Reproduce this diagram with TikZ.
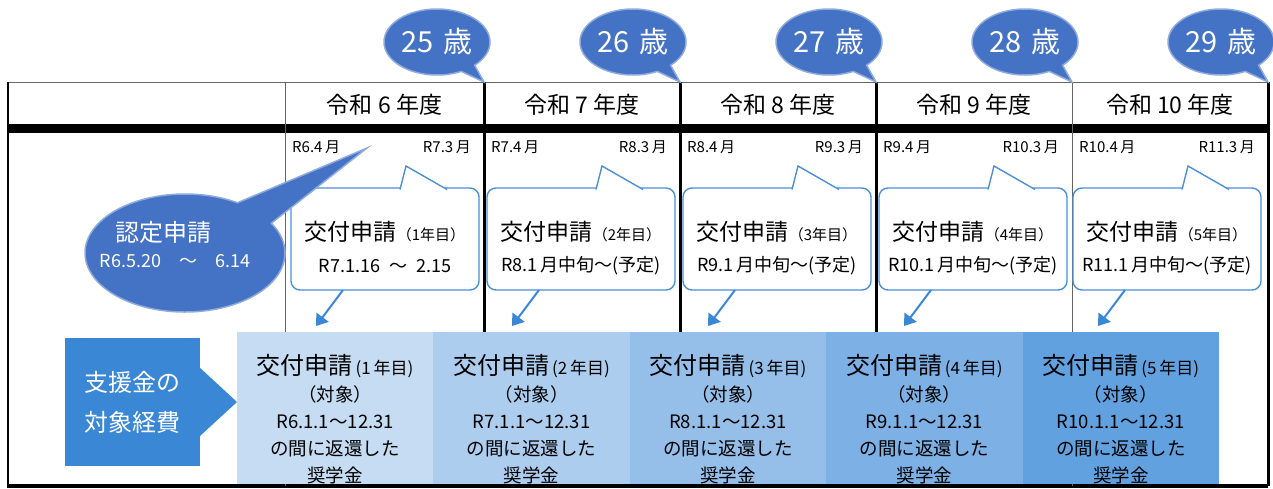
\documentclass[tikz,border=0pt]{standalone}
\usepackage{fontspec}
\setmainfont{Noto Sans CJK JP}
\usetikzlibrary{shapes.geometric,shapes.callouts,arrows.meta,positioning}

\definecolor{agefill}{HTML}{4472C4}
\definecolor{ageedge}{HTML}{8FAADC}
\definecolor{callblue}{HTML}{4A8FD8}
\definecolor{arrowblue}{HTML}{3A87D5}
\definecolor{supblue}{HTML}{3A87D5}
\definecolor{boxA}{HTML}{C5DCF2}
\definecolor{boxB}{HTML}{ADCDEE}
\definecolor{boxC}{HTML}{95BFE9}
\definecolor{boxD}{HTML}{7DB0E4}
\definecolor{boxE}{HTML}{62A1DF}

\tikzset{
  thinrule/.style={line width=1pt,draw=black!60},
  thickrule/.style={line width=3pt,draw=black},
  agebubble/.style={ellipse callout,fill=agefill,draw=ageedge,line width=1.5pt,
    minimum width=106pt,minimum height=66pt,inner sep=0pt,callout pointer arc=18},
  applybox/.style={draw=callblue,line width=1.4pt,fill=white,rounded corners=9pt,
    minimum width=188pt,minimum height=102pt},
  yearbox/.style={minimum width=196.4pt,minimum height=152pt,inner sep=0pt},
  pointer/.style={arrowblue,line width=2pt,-{Triangle[width=15pt,length=11pt]}},
}

\begin{document}
\begin{tikzpicture}[x=1pt,y=-1pt]
\useasboundingbox (0,0) rectangle (1273,488);

% Drawing the table frame
\draw [thinrule] (8,82) -- (1268,82);%
\draw [line width=2pt] (8,82) -- (8,488);%
\draw [line width=9pt] (8,128.5) -- (1268,128.5);%
\draw [line width=4pt] (8,486) -- (1268,486);%

% Drawing column separators
\draw [thinrule] (285,82) -- (285,486);%
\draw [thickrule] (484,82) -- (484,486);%
\draw [thickrule] (680,82) -- (680,486);%
\draw [thickrule] (876,82) -- (876,486);%
\draw [thinrule] (1072,82) -- (1072,486);%
\draw [thickrule] (1268,82) -- (1268,486);%

% Columns: year, age, months, application box, target box
\foreach \i/\L/\R/\cx/\bx/\yr/\age/\ms/\me/\nth/\when/\tgt/\fc in {
  1/285/484/385/335.2/6/25/R6.4/R7.3/{（1年目）}/{R7.1.16\enspace～\enspace2.15}/R6/boxA,
  2/484/680/581/531.6/7/26/R7.4/R8.3/{（2年目）}/{R8.1\,月中旬～(予定)}/R7/boxB,
  3/680/876/777/728.0/8/27/R8.4/R9.3/{（3年目）}/{R9.1\,月中旬～(予定)}/R8/boxC,
  4/876/1072/973/924.4/9/28/R9.4/R10.3/{（4年目）}/{R10.1\,月中旬～(予定)}/R9/boxD,
  5/1072/1268/1167/1120.8/10/29/R10.4/R11.3/{（5年目）}/{R11.1\,月中旬～(予定)}/R10/boxE}
{
  % Header of the year
  \node [font=\fontsize{23}{26}\selectfont] (year\i) at ({(\L+\R)/2},105) {令和 \yr\ 年度};%
  % Age bubble
  \node [agebubble,callout absolute pointer={(\R,82)}] (age\i) at (\R-47,42) {};%
  \node [text=white,font=\fontsize{29}{32}\selectfont] (agetext\i) at (age\i.center) {\age\,\,歳};%
  % Months
  \node [anchor=west,font=\fontsize{15}{17}\selectfont,inner sep=0pt] (mstart\i) at (\L+7,147) {\ms\,月};%
  \node [anchor=east,font=\fontsize{15}{17}\selectfont,inner sep=0pt] (mend\i) at (\R-13,147) {\me\,月};%
  % Application callout
  \node [applybox] (call\i) at (\cx,239) {};%
  \fill [white] (\cx+15,189.5) -- (\cx+21,166) -- (\cx+62,189.5) -- cycle;%
  \draw [callblue,line width=1.4pt] (\cx+15,189.5) -- (\cx+21,166) -- (\cx+62,189.5);%
  \node [inner sep=0pt] (calltext\i) at (\cx,232)
    {{\fontsize{23}{26}\selectfont 交付申請}{\fontsize{15}{17}\selectfont\nth}};%
  \node [inner sep=0pt,font=\fontsize{18}{21}\selectfont] (callwhen\i) at (\cx,266) {\when};%
  % Target box
  \node [yearbox,fill=\fc] (target\i) at (\bx,408) {};%
  \node [align=center,inner sep=0pt,font=\fontsize{18.5}{27}\selectfont] (targettext\i) at (\bx,419)
    {{\fontsize{24}{27}\selectfont 交付申請}{\fontsize{17}{27}\selectfont\,(\i\,年目)}\\
     （対象）\\ \tgt.1.1～12.31\\ の間に返還した\\ 奨学金};%
  % Pointer from callout to target box
  \coordinate (from\i) at (\cx-42,290);%
  \coordinate (to\i) at (\cx-69,326);%
  \draw [pointer] (from\i) -- (to\i);%
}

% Recognition bubble
\node [ellipse callout,fill=agefill,draw=ageedge,line width=1.5pt,minimum width=200pt,
  minimum height=118pt,callout absolute pointer={(367,148)},callout pointer arc=28] (nintei) at (185,253) {};%
\node [text=white,inner sep=0pt,font=\fontsize{24}{28}\selectfont] (ninteititle) at (163,232) {認定申請};%
\node [text=white,inner sep=0pt,font=\fontsize{18}{22}\selectfont] (ninteidate) at (175,261) {R6.5.20\quad～\quad6.14};%

% Support target label with arrow
\node [fill=supblue,minimum width=135pt,minimum height=128pt,inner sep=0pt] (support) at (132.5,402) {};%
\fill [supblue] (support.east) ++(0,-34) -- (237,402) -- ++(-37,34) -- cycle;%
\node [text=white,align=center,inner sep=0pt,font=\fontsize{24}{40}\selectfont] (supporttext) at (support.center) {支援金の\\対象経費};%

\end{tikzpicture}
\end{document}
